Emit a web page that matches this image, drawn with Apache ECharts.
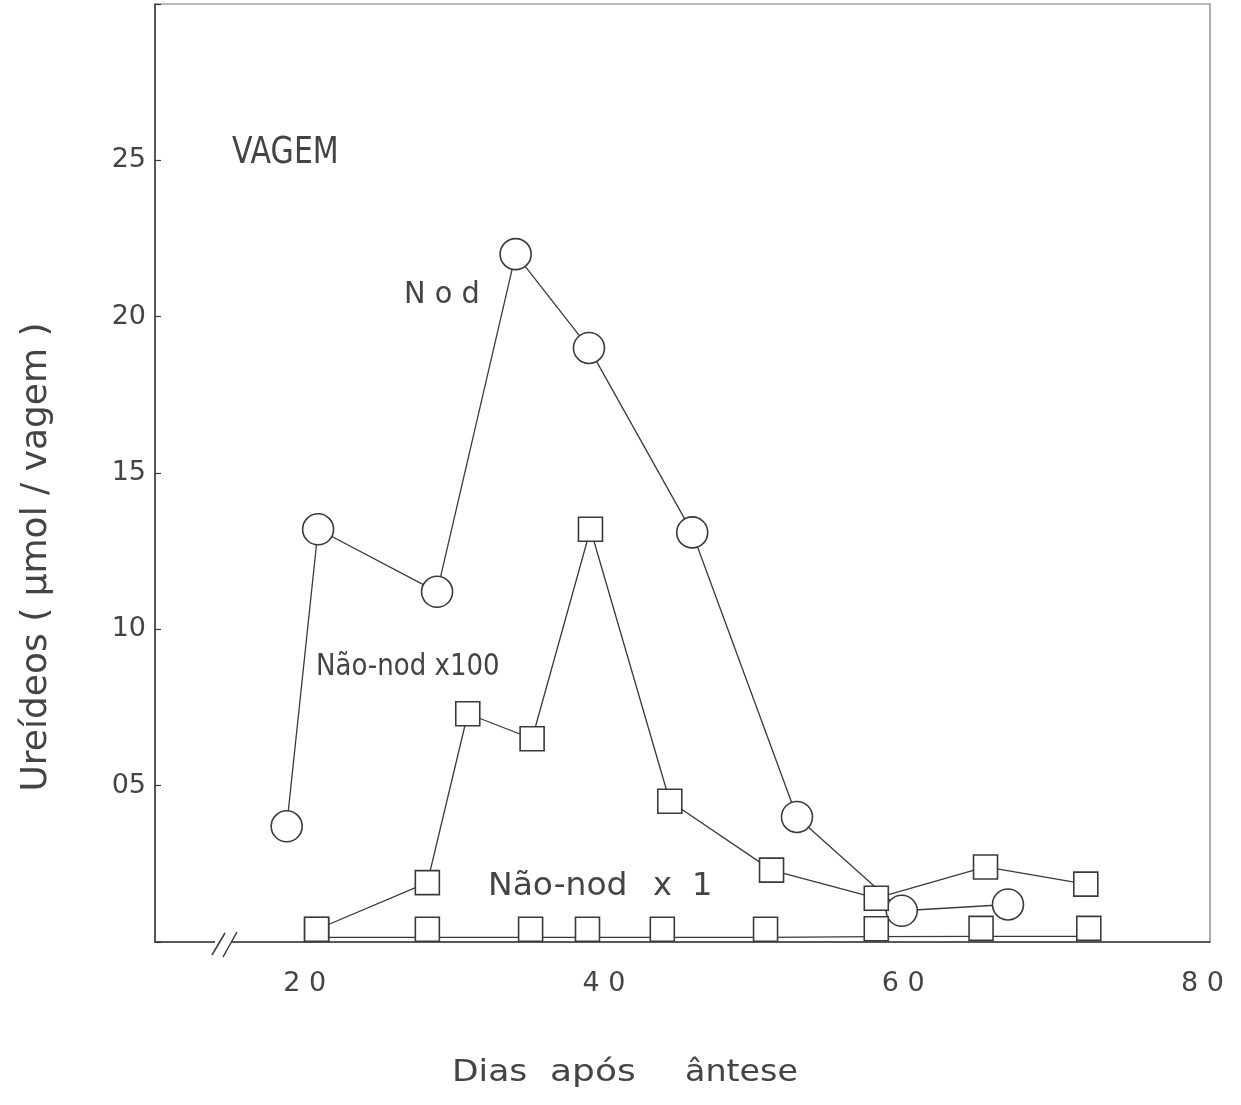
<!DOCTYPE html>
<html>
<head>
<meta charset="utf-8">
<script src="https://cdn.jsdelivr.net/npm/echarts@6/dist/echarts.min.js"></script>
<style>html,body{margin:0;padding:0;background:#fff;}#c{width:1241px;height:1105px;}</style>
</head>
<body>
<div id="c"></div>
<script>
// ---- data ----
const xTickValues = [20, 40, 60, 80];
const xTickLabels = ['2 0', '4 0', '6 0', '8 0'];
const yTickValues = [5, 10, 15, 20, 25];
const yTickLabels = ['05', '10', '15', '20', '25'];

const nodDays   = [18.8, 20.9, 28.85, 34.1, 39.0, 45.9, 52.9, 59.9, 67.0];
const nodValues = [3.7, 13.2, 11.2, 22.0, 19.0, 13.1, 4.0, 1.0, 1.2];

const x100Days   = [20.8, 28.2, 30.9, 35.2, 39.1, 44.4, 51.2, 58.2, 65.5, 72.2];
const x100Values = [0.4, 1.9, 7.3, 6.5, 13.2, 4.5, 2.3, 1.4, 2.4, 1.85];

const x1Days   = [20.8, 28.2, 35.1, 38.9, 43.9, 50.8, 58.2, 65.2, 72.4];
const x1Values = [0.15, 0.15, 0.15, 0.15, 0.15, 0.15, 0.17, 0.18, 0.18];

const seriesNames = ['Nod', 'Não-nod x100', 'Não-nod x 1'];

// ---- build ----
const zip = (a, b) => a.map((v, i) => [v, b[i]]);
const ink = '#3a3a3a';
const txt = '#444';
const FONT = 'DejaVu Sans';

const chart = echarts.init(document.getElementById('c'), null, {renderer: 'canvas'});
const option = {
  backgroundColor: '#fff',
  animation: false,
  grid: {left: 155, right: 31, top: 4, bottom: 163, show: true, borderColor: '#777', borderWidth: 1.2, backgroundColor: 'transparent'},
  xAxis: {
    type: 'value', min: 10, max: 80.5, interval: 10,
    axisLine: {show: true, lineStyle: {color: ink, width: 1.5}},
    axisTick: {show: false},
    splitLine: {show: false},
    axisLabel: {
      margin: 28, color: txt, fontFamily: FONT, fontSize: 27,
      showMinLabel: false, showMaxLabel: false,
      formatter: v => { const i = xTickValues.indexOf(v); return i >= 0 ? xTickLabels[i] : ''; }
    }
  },
  yAxis: {
    type: 'value', min: 0, max: 30, interval: 5,
    axisLine: {show: true, lineStyle: {color: ink, width: 1.5}},
    axisTick: {show: true, inside: true, length: 6, lineStyle: {color: ink, width: 1.2}},
    splitLine: {show: false},
    axisLabel: {
      margin: 9, color: txt, fontFamily: FONT, fontSize: 27,
      formatter: v => { const i = yTickValues.indexOf(v); return i >= 0 ? yTickLabels[i] : ''; }
    }
  },
  series: [
    {
      name: seriesNames[0], type: 'line', data: zip(nodDays, nodValues),
      symbol: 'circle', symbolSize: 31, clip: false,
      lineStyle: {color: ink, width: 1.3},
      itemStyle: {color: '#fff', borderColor: ink, borderWidth: 1.6},
      z: 3
    },
    {
      name: seriesNames[1], type: 'line', data: zip(x100Days, x100Values),
      symbol: 'rect', symbolSize: 24, clip: false,
      lineStyle: {color: ink, width: 1.3},
      itemStyle: {color: '#fff', borderColor: ink, borderWidth: 1.6},
      z: 4
    },
    {
      name: seriesNames[2], type: 'line', data: zip(x1Days, x1Values),
      symbol: 'rect', symbolSize: 24, symbolOffset: [0, -8], clip: false,
      lineStyle: {color: ink, width: 1.3},
      itemStyle: {color: '#fff', borderColor: ink, borderWidth: 1.6},
      z: 5
    }
  ],
  graphic: [
    // axis break
    {type: 'rect', shape: {x: 215, y: 937, width: 16, height: 9}, style: {fill: '#fff'}, z: 100},
    {type: 'line', shape: {x1: 212, y1: 955, x2: 225, y2: 933}, style: {stroke: ink, lineWidth: 1.5}, z: 101},
    {type: 'line', shape: {x1: 223, y1: 957, x2: 237, y2: 932}, style: {stroke: ink, lineWidth: 1.5}, z: 101},
    // annotations
    {type: 'text', left: 232, top: 134, style: {text: 'VAGEM', fontFamily: FONT, fontSize: 38, fill: txt}, scaleX: 0.79, z: 100},
    {type: 'text', left: 404, top: 279, style: {text: 'N o d', fontFamily: FONT, fontSize: 31, fill: txt}, scaleX: 0.93, z: 100},
    {type: 'text', left: 316, top: 651, style: {text: 'Não-nod x100', fontFamily: FONT, fontSize: 31, fill: txt}, scaleX: 0.84, z: 100},
    {type: 'text', left: 488, top: 871, style: {text: 'Não-nod', fontFamily: FONT, fontSize: 32, fill: txt}, scaleX: 1.03, z: 100},
    {type: 'text', left: 653, top: 871, style: {text: 'x', fontFamily: FONT, fontSize: 32, fill: txt}, z: 100},
    {type: 'text', left: 692, top: 871, style: {text: '1', fontFamily: FONT, fontSize: 32, fill: txt}, z: 100},
    // axis titles
    {type: 'text', x: 37, y: 557, rotation: Math.PI / 2,
      style: {text: 'Ureídeos ( µmol / vagem )', fontFamily: FONT, fontSize: 36, fill: txt, align: 'center', verticalAlign: 'middle'}, z: 100},
    {type: 'text', left: 452, top: 1058, style: {text: 'Dias', fontFamily: FONT, fontSize: 30, fill: txt}, scaleX: 1.15, z: 100},
    {type: 'text', left: 550, top: 1058, style: {text: 'após', fontFamily: FONT, fontSize: 30, fill: txt}, scaleX: 1.2, z: 100},
    {type: 'text', left: 685, top: 1058, style: {text: 'ântese', fontFamily: FONT, fontSize: 30, fill: txt}, scaleX: 1.11, z: 100}
  ]
};
chart.setOption(option);
</script>
</body>
</html>
